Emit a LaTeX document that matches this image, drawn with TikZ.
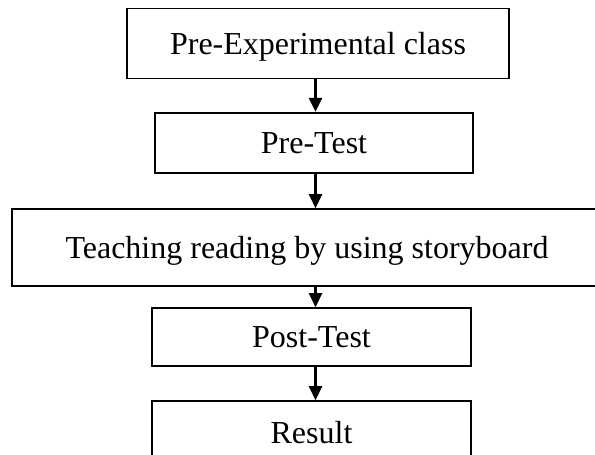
\documentclass[tikz,border=0pt]{standalone}
\usepackage{fontspec}
\setmainfont{Liberation Serif}
\usepackage{tikz}
\usetikzlibrary{arrows.meta,positioning,calc}
\definecolor{FlowLine}{RGB}{0,0,0}
\tikzset{
  caixa/.style={draw=FlowLine, line width=1.6pt, fill=white, inner sep=0pt,
                align=center, font=\fontsize{32}{38}\selectfont,
                text height=21pt, text depth=0pt},
  seta/.style={-{Triangle[length=14pt, width=13pt]}, line width=2.6pt, FlowLine},
}

\begin{document}
\begin{tikzpicture}[x=1pt, y=-1pt]
  % Moldura
  \clip (0,0) rectangle (595,455);
  \fill[white] (0,0) rectangle (595,455);

  % Etapas
  \node[caixa, minimum width=382pt, minimum height=70pt] (classe) at (318,43.5) {Pre-Experimental class};
  \node[caixa, minimum width=318pt, minimum height=60pt] (preteste) at (314,142.7) {Pre-Test};
  \node[caixa, minimum width=590pt, minimum height=77pt] (ensino) at (307,247.5) {Teaching reading by using storyboard};
  \node[caixa, minimum width=319pt, minimum height=58pt] (posteste) at (311.5,337) {Post-Test};
  \node[caixa, minimum width=319pt, minimum height=64pt] (resultado) at (311.5,433) {Result};

  % Setas
  \coordinate (eixo) at (315.5,0);
  \draw[seta] (classe.south -| eixo) -- (preteste.north -| eixo);
  \draw[seta] (preteste.south -| eixo) -- (ensino.north -| eixo);
  \draw[seta] (ensino.south -| eixo) -- (posteste.north -| eixo);
  \draw[seta] (posteste.south -| eixo) -- (resultado.north -| eixo);
\end{tikzpicture}
\end{document}
